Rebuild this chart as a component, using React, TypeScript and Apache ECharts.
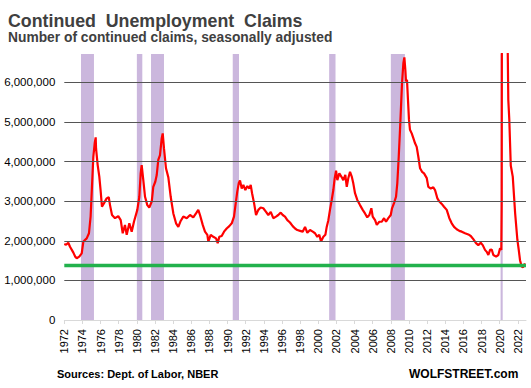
import React, { useEffect, useRef } from "react";
import * as echarts from "echarts";

// Decimal years (x) and continued claims in millions (y)
const years = [
  1972.0, 1972.2, 1972.44, 1972.63, 1973.0, 1973.2, 1973.37, 1973.65, 1973.92, 1974.1,
  1974.47, 1974.72, 1974.9, 1975.05, 1975.2, 1975.35, 1975.46, 1975.5, 1975.68, 1975.86,
  1976.0, 1976.15, 1976.38, 1976.67, 1976.9, 1977.04, 1977.26, 1977.59, 1977.95, 1978.22,
  1978.44, 1978.69, 1978.88, 1979.17, 1979.43, 1979.68, 1980.05, 1980.27, 1980.42, 1980.53,
  1980.71, 1980.9, 1981.15, 1981.37, 1981.64, 1981.81, 1982.03, 1982.19, 1982.36, 1982.55,
  1982.74, 1982.85, 1982.99, 1983.21, 1983.47, 1983.73, 1984.02, 1984.32, 1984.57, 1984.83,
  1985.12, 1985.5, 1985.86, 1986.22, 1986.52, 1986.77, 1986.96, 1987.26, 1987.51, 1987.77,
  1987.88, 1988.14, 1988.43, 1988.73, 1988.91, 1989.09, 1989.35, 1989.61, 1989.9, 1990.19,
  1990.46, 1990.71, 1990.9, 1991.07, 1991.23, 1991.37, 1991.56, 1991.74, 1991.96, 1992.18,
  1992.4, 1992.55, 1992.7, 1992.92, 1993.14, 1993.39, 1993.65, 1993.94, 1994.24, 1994.49,
  1994.76, 1995.04, 1995.34, 1995.59, 1995.86, 1996.08, 1996.33, 1996.59, 1996.88, 1997.18,
  1997.44, 1997.69, 1997.99, 1998.28, 1998.54, 1998.79, 1999.09, 1999.39, 1999.64, 1999.89,
  2000.11, 2000.3, 2000.56, 2000.78, 2000.93, 2001.11, 2001.29, 2001.48, 2001.66, 2001.81,
  2001.96, 2002.1, 2002.32, 2002.54, 2002.76, 2002.98, 2003.14, 2003.31, 2003.5, 2003.69,
  2003.86, 2004.05, 2004.3, 2004.6, 2004.9, 2005.15, 2005.4, 2005.63, 2005.85, 2006.0,
  2006.26, 2006.45, 2006.73, 2007.0, 2007.25, 2007.47, 2007.72, 2007.99, 2008.13, 2008.35,
  2008.57, 2008.71, 2008.87, 2009.01, 2009.12, 2009.23, 2009.38, 2009.49, 2009.6, 2009.67,
  2009.78, 2009.89, 2010.0, 2010.11, 2010.3, 2010.48, 2010.67, 2010.85, 2011.03, 2011.22,
  2011.44, 2011.66, 2011.96, 2012.13, 2012.4, 2012.68, 2012.87, 2013.13, 2013.35, 2013.61,
  2013.86, 2014.16, 2014.45, 2014.71, 2014.97, 2015.26, 2015.55, 2015.82, 2016.18, 2016.54,
  2016.81, 2017.09, 2017.39, 2017.64, 2017.91, 2018.13, 2018.38, 2018.57, 2018.75, 2018.94,
  2019.12, 2019.3, 2019.6, 2019.85, 2020.04, 2020.18, 2020.22, 2020.24, 2020.26, 2020.29,
  2020.33, 2020.36, 2020.45, 2020.55, 2020.7, 2020.8, 2020.88, 2020.95, 2021.06, 2021.22,
  2021.44, 2021.7, 2021.95, 2022.1, 2022.24, 2022.42, 2022.58, 2022.78,
];

const claimsM = [
  1.92, 1.9, 1.95, 1.85, 1.7, 1.6, 1.56, 1.6, 1.68, 1.98,
  2.06, 2.19, 2.61, 3.36, 4.12, 4.46, 4.61, 4.33, 3.91, 3.62,
  3.28, 2.86, 2.95, 3.07, 3.1, 2.9, 2.65, 2.57, 2.62, 2.52,
  2.19, 2.4, 2.15, 2.44, 2.23, 2.48, 2.78, 3.11, 3.7, 3.91,
  3.53, 3.11, 2.9, 2.84, 2.99, 3.36, 3.49, 3.66, 4.04, 4.16,
  4.59, 4.71, 4.33, 3.83, 3.6, 3.11, 2.69, 2.44, 2.35, 2.5,
  2.61, 2.57, 2.65, 2.59, 2.69, 2.78, 2.65, 2.4, 2.23, 2.15,
  1.98, 2.15, 2.1, 2.06, 1.94, 2.1, 2.12, 2.23, 2.31, 2.37,
  2.44, 2.61, 2.95, 3.24, 3.45, 3.52, 3.32, 3.41, 3.28, 3.38,
  3.32, 3.41, 3.2, 2.95, 2.65, 2.78, 2.84, 2.82, 2.73, 2.65,
  2.73, 2.57, 2.61, 2.65, 2.71, 2.65, 2.61, 2.52, 2.46, 2.37,
  2.31, 2.27, 2.25, 2.23, 2.35, 2.2, 2.27, 2.23, 2.19, 2.1,
  2.15, 1.98, 2.1, 2.15, 2.35, 2.52, 2.78, 3.03, 3.28, 3.58,
  3.77, 3.53, 3.7, 3.62, 3.53, 3.66, 3.36, 3.58, 3.74, 3.62,
  3.45, 3.2, 3.03, 2.9, 2.78, 2.69, 2.59, 2.65, 2.82, 2.61,
  2.52, 2.4, 2.48, 2.48, 2.57, 2.48, 2.57, 2.65, 2.82, 2.95,
  3.11, 3.45, 4.12, 4.8, 5.38, 5.97, 6.48, 6.63, 6.31, 6.02,
  6.06, 5.55, 5.05, 4.8, 4.71, 4.59, 4.46, 4.37, 4.12, 3.83,
  3.74, 3.7, 3.58, 3.36, 3.32, 3.35, 3.28, 3.07, 2.99, 2.93,
  2.86, 2.78, 2.57, 2.44, 2.35, 2.29, 2.25, 2.23, 2.19, 2.16,
  2.12, 2.04, 1.94, 1.89, 1.95, 1.89, 1.77, 1.72, 1.64, 1.77,
  1.78, 1.64, 1.6, 1.64, 1.81, 1.77, 3.0, 7.4, 12.0, 16.0,
  18.7, 22.8, 20.0, 17.0, 12.5, 9.0, 6.9, 5.55, 5.05, 3.9,
  3.62, 2.7, 2.02, 1.77, 1.51, 1.35, 1.33, 1.43,
];

// NBER recessions as [start, end] in decimal years
const recessionStarts = [1973.84, 1980.0, 1981.56, 1990.57, 2001.2, 2008.0, 2020.1];
const recessionEnds = [1975.27, 1980.6, 1982.99, 1991.26, 2001.9, 2009.55, 2020.33];

const xTickYears = [
  1972, 1974, 1976, 1978, 1980, 1982, 1984, 1986, 1988, 1990, 1992, 1994, 1996,
  1998, 2000, 2002, 2004, 2006, 2008, 2010, 2012, 2014, 2016, 2018, 2020, 2022,
];
const yTicksM = [0, 1, 2, 3, 4, 5, 6];
const gridLinesM = [1, 2, 3, 4, 5, 6];
const currentLevelM = 1.38;

const FONT = "'Liberation Sans', Arial, sans-serif";

export default function App() {
  const ref = useRef<HTMLDivElement>(null);

  useEffect(() => {
    if (!ref.current) return;
    const chart = echarts.init(ref.current, null, { renderer: "svg" });
    const lineData = years.map((y, i) => [y, claimsM[i]]);

    chart.setOption({
      animation: false,
      backgroundColor: "#ffffff",
      grid: { left: 64.3, right: 5, top: 54, bottom: 68, outerBoundsMode: "none" },
      xAxis: {
        type: "value",
        min: 1972,
        max: 2022.9,
        splitLine: { show: false },
        axisLine: { show: true, lineStyle: { color: "#D9D9D9", width: 1 } },
        axisTick: {
          show: true,
          customValues: xTickYears,
          length: 4,
          lineStyle: { color: "#D9D9D9" },
        },
        axisLabel: {
          customValues: xTickYears,
          rotate: 90,
          margin: 9,
          fontSize: 11,
          fontFamily: FONT,
          color: "#000000",
          formatter: (v: number) => String(Math.round(v)),
        },
      },
      yAxis: {
        type: "value",
        min: 0,
        max: 6.714,
        splitLine: { show: false },
        axisLine: { show: false },
        axisTick: { show: false },
        axisLabel: {
          customValues: yTicksM,
          margin: 9,
          fontSize: 11.5,
          fontFamily: FONT,
          color: "#000000",
          formatter: (v: number) => Math.round(v * 1e6).toLocaleString("en-US"),
        },
      },
      graphic: [
        {
          type: "text",
          style: {
            x: 8,
            y: 20.5,
            text: "Continued  Unemployment  Claims",
            font: `bold 17.8px ${FONT}`,
            fill: "#404040",
            verticalAlign: "middle",
          },
        },
        {
          type: "text",
          style: {
            x: 8,
            y: 37.8,
            text: "Number of continued claims, seasonally adjusted",
            font: `bold 13.8px ${FONT}`,
            fill: "#404040",
            verticalAlign: "middle",
          },
        },
        {
          type: "text",
          style: {
            x: 57,
            y: 374,
            text: "Sources: Dept. of Labor, NBER",
            font: `bold 11px ${FONT}`,
            fill: "#000000",
            verticalAlign: "middle",
          },
        },
        {
          type: "text",
          style: {
            x: 409,
            y: 374,
            text: "WOLFSTREET.com",
            font: `bold 12px ${FONT}`,
            fill: "#000000",
            verticalAlign: "middle",
          },
        },
      ],
      series: [
        {
          name: "recessions",
          type: "line",
          data: [],
          z: 1,
          silent: true,
          markArea: {
            silent: true,
            itemStyle: { color: "#CBB7DD" },
            data: recessionStarts.map((s, i) => [{ xAxis: s }, { xAxis: recessionEnds[i] }]),
          },
        },
        {
          name: "gridlines",
          type: "line",
          data: [],
          z: 2,
          silent: true,
          markLine: {
            silent: true,
            symbol: ["none", "none"],
            label: { show: false },
            lineStyle: { color: "#555555", width: 1, type: "solid" },
            emphasis: { disabled: true },
            data: gridLinesM.map((v) => ({ yAxis: v })),
          },
        },
        {
          name: "current",
          type: "line",
          data: [],
          z: 3,
          silent: true,
          markLine: {
            silent: true,
            symbol: ["none", "none"],
            label: { show: false },
            lineStyle: { color: "#22B14C", width: 3.3, type: "solid" },
            emphasis: { disabled: true },
            data: [{ yAxis: currentLevelM }],
          },
        },
        {
          name: "Continued claims",
          type: "line",
          data: lineData,
          z: 4,
          showSymbol: false,
          symbol: "none",
          clip: true,
          lineStyle: { color: "#FF0000", width: 2.2 },
          silent: true,
        },
      ],
    });

    return () => chart.dispose();
  }, []);

  return (
    <div
      ref={ref}
      style={{ position: "fixed", left: 0, top: 0, width: 531, height: 388, background: "#fff" }}
    />
  );
}
